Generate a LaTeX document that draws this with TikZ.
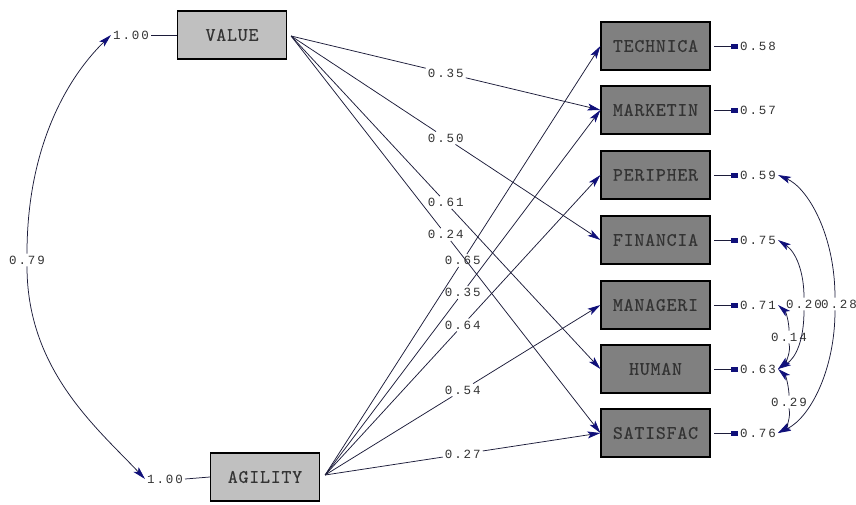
\documentclass[tikz,border=0pt]{standalone}
\usepackage{fontspec}
\newfontfamily\boxfont{lmmono10-regular}[Extension=.otf, LetterSpace=4, FakeBold=0.3]
\newfontfamily\numfont[LetterSpace=15]{Liberation Mono}
\usetikzlibrary{arrows.meta}
\definecolor{latentfill}{HTML}{C0C0C0}
\definecolor{obsfill}{HTML}{808080}
\definecolor{tipc}{HTML}{10107A}
\definecolor{linec}{HTML}{1C1C3A}
\tikzset{
  latent/.style={draw=black, line width=1.2pt, fill=latentfill,
    minimum width=109pt, minimum height=48pt, inner sep=0pt,
    font=\boxfont\fontsize{19}{19}\selectfont, text=black!80},
  obs/.style={latent, fill=obsfill},
  num/.style={font=\numfont\fontsize{12.5}{12.5}\selectfont, text=black!80, inner sep=2pt},
  link/.style={draw=linec, line width=0.75pt},
  arr/.style={link, -{Stealth[length=13pt,width=7pt,inset=3pt,color=tipc]}},
  errl/.style={link, {Rectangle[length=7pt,width=5pt,color=tipc]}-, shorten >=3pt},
}
\begin{document}
\begin{tikzpicture}[x=1pt,y=-1pt]
\useasboundingbox[fill=white] (0,0) rectangle (856,504);

% latent variables
\node[latent] (VAL) at (232,35) {VALUE};
\node[latent] (AGI) at (265,477) {AGILITY};

% indicators
\node[obs] (TEC) at (655.5,46)  {TECHNICA};
\node[obs] (MAR) at (655.5,110) {MARKETIN};
\node[obs] (PER) at (655.5,175) {PERIPHER};
\node[obs] (FIN) at (655.5,240) {FINANCIA};
\node[obs] (MAN) at (655.5,305) {MANAGERI};
\node[obs] (HUM) at (655.5,369) {HUMAN};
\node[obs] (SAT) at (655.5,433) {SATISFAC};

% error variances
\foreach \b/\v/\y in {TEC/0.58/46, MAR/0.57/110, PER/0.59/175, FIN/0.75/240,
                      MAN/0.71/305, HUM/0.63/369, SAT/0.76/433} {
  \node[num] (e\b) at (758,\y) {\v};
  \draw[errl] (e\b.west) -- (\b.east);
}

% variances of the latent variables
\node[num] (vVAL) at (131,35) {1.00};
\node[num] (vAGI) at (165,479) {1.00};
\draw[link] (vVAL.east) -- (VAL.west);
\draw[link] (vAGI.east) -- (AGI.west);

% covariance of the latent variables
\node[num] (l79) at (27,260) {0.79};
\draw[arr] (l79.north) .. controls (27,150) and (65,80) .. (vVAL.west);
\draw[arr] (l79.south) .. controls (27,370) and (97,428) .. (vAGI.west);

% loadings
\coordinate (vs) at ([shift={(4,1)}]VAL.east);
\coordinate (as) at ([shift={(5,-2)}]AGI.east);
\foreach \t/\v/\n in {MAR/0.35/a, FIN/0.50/b, HUM/0.61/c, SAT/0.24/d} {
  \path (vs) -- node[num] (g\n) {\v} (\t.west);
  \draw[link] (vs) -- (g\n);
  \draw[arr] (g\n) -- (\t.west);
}
\foreach \t/\v/\n in {TEC/0.65/a, MAR/0.35/b, PER/0.64/c, MAN/0.54/d, SAT/0.27/e} {
  \path (as) -- node[num] (h\n) {\v} (\t.west);
  \draw[link] (as) -- (h\n);
  \draw[arr] (h\n) -- (\t.west);
}

% correlated errors
\node[num] (c20) at (804,304) {0.20};
\node[num] (c28) at (839,304) {0.28};
\node[num] (c14) at (789,337) {0.14};
\node[num] (c29) at (789,402) {0.29};
\draw[arr] ([xshift=-4]c28.north) .. controls (835,235) and (808,188) .. (ePER.east);
\draw[arr] ([xshift=-4]c28.south) .. controls (835,370) and (810,418) .. (eSAT.east);
\draw[arr] (c20.north) .. controls (804,272) and (796,252) .. (eFIN.east);
\draw[arr] (c20.south) .. controls (804,340) and (796,358) .. (eHUM.east);
\draw[arr] (c14.north) .. controls (789,322) and (786,312) .. (eMAN.east);
\draw[arr] (c14.south) .. controls (791,352) and (786,362) .. (eHUM.east);
\draw[arr] (c29.north) .. controls (789,388) and (786,376) .. (eHUM.east);
\draw[arr] (c29.south) .. controls (791,418) and (786,428) .. (eSAT.east);
\end{tikzpicture}
\end{document}
